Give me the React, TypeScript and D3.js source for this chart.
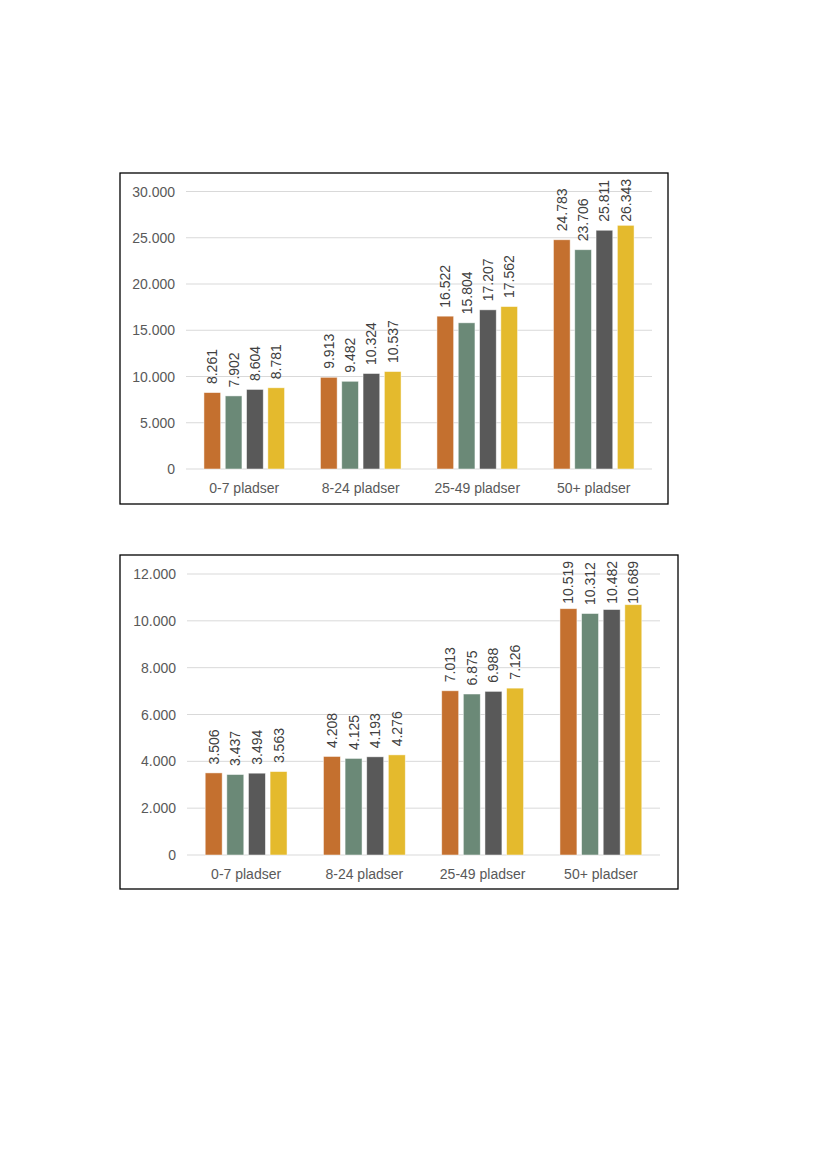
import * as d3 from 'd3'

const categories = ['0-7 pladser', '8-24 pladser', '25-49 pladser', '50+ pladser']
const seriesColors = ['#C4702F', '#6B8977', '#595959', '#E4BA2D']

// upper chart, one array per series (values per category)
const topSeriesA = [8261, 9913, 16522, 24783]
const topSeriesB = [7902, 9482, 15804, 23706]
const topSeriesC = [8604, 10324, 17207, 25811]
const topSeriesD = [8781, 10537, 17562, 26343]
const topTicks = [0, 5000, 10000, 15000, 20000, 25000, 30000]

// lower chart
const bottomSeriesA = [3506, 4208, 7013, 10519]
const bottomSeriesB = [3437, 4125, 6875, 10312]
const bottomSeriesC = [3494, 4193, 6988, 10482]
const bottomSeriesD = [3563, 4276, 7126, 10689]
const bottomTicks = [0, 2000, 4000, 6000, 8000, 10000, 12000]

const dk = d3.formatLocale({ decimal: ',', thousands: '.', grouping: [3], currency: ['', ''] })
const fmt = dk.format(',d')

const FONT = 14
// rough label length in px (Arial metrics: digits .556em, dot .278em)
const labelLen = (s: string) =>
  s.split('').reduce((w, ch) => w + (ch === '.' ? 0.278 : 0.556), 0) * FONT

interface ChartProps {
  frame: { x: number; y: number; w: number; h: number }
  plot: { left: number; right: number; top: number; bottom: number }
  series: number[][]
  ticks: number[]
}

function BarChart({ frame, plot, series, ticks }: ChartProps) {
  const y = d3.scaleLinear()
    .domain([0, ticks[ticks.length - 1]])
    .range([plot.bottom, plot.top])

  const x0 = d3.scaleBand<string>()
    .domain(categories)
    .range([plot.left, plot.right])

  const groupSpan = x0.bandwidth() * 0.692
  const x1 = d3.scaleBand<number>()
    .domain(series.map((_, i) => i))
    .range([0, groupSpan])
    .paddingInner(0.216)

  const offset = (x0.bandwidth() - groupSpan) / 2
  const labelTopLimit = frame.y + 6

  return (
    <g>
      <rect x={frame.x} y={frame.y} width={frame.w} height={frame.h}
        fill="white" stroke="#000" strokeWidth={1.3} />
      {ticks.map(t => (
        <g key={t}>
          <line x1={plot.left} x2={plot.right} y1={y(t)} y2={y(t)}
            stroke="#D9D9D9" strokeWidth={1} />
          <text x={plot.left - 11} y={y(t)} textAnchor="end" dominantBaseline="central"
            fontSize={FONT} fill="#595959">{fmt(t)}</text>
        </g>
      ))}
      {categories.map((c, ci) => (
        <g key={c}>
          {series.map((s, si) => {
            const bx = (x0(c) as number) + offset + (x1(si) as number)
            const bw = x1.bandwidth()
            const by = y(s[ci])
            const txt = fmt(s[ci])
            // Excel pushes labels down when they would leave the chart area
            let ly = by - 8.5
            const len = labelLen(txt)
            if (ly - len < labelTopLimit) ly = labelTopLimit + len
            return (
              <g key={si}>
                <rect x={bx} y={by} width={bw} height={plot.bottom - by}
                  fill={seriesColors[si]} stroke="#FFFFFF" strokeOpacity={0.6} strokeWidth={0.8} />
                <text transform={`translate(${bx + bw / 2},${ly}) rotate(-90)`}
                  dominantBaseline="central" fontSize={FONT} fill="#404040">{txt}</text>
              </g>
            )
          })}
          <text x={(x0(c) as number) + x0.bandwidth() / 2} y={plot.bottom + 19}
            textAnchor="middle" dominantBaseline="central" fontSize={FONT} fill="#595959">{c}</text>
        </g>
      ))}
    </g>
  )
}

export default function App() {
  return (
    <svg width={826} height={1169} style={{ position: 'absolute', left: 0, top: 0 }}
      fontFamily="'Liberation Sans', Arial, sans-serif">
      <rect width={826} height={1169} fill="white" />
      <BarChart
        frame={{ x: 120, y: 173, w: 548, h: 331 }}
        plot={{ left: 186, right: 652, top: 191.5, bottom: 469 }}
        series={[topSeriesA, topSeriesB, topSeriesC, topSeriesD]}
        ticks={topTicks}
      />
      <BarChart
        frame={{ x: 120, y: 555, w: 558, h: 334 }}
        plot={{ left: 187, right: 660, top: 574, bottom: 855 }}
        series={[bottomSeriesA, bottomSeriesB, bottomSeriesC, bottomSeriesD]}
        ticks={bottomTicks}
      />
    </svg>
  )
}
